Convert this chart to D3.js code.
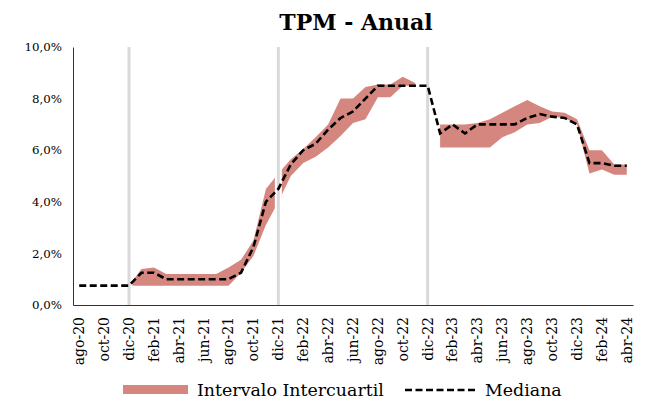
<!DOCTYPE html>
<html><head><meta charset="utf-8">
<script src="https://cdn.jsdelivr.net/npm/d3@7"></script>
<style>body{margin:0;background:#fff}svg{display:block}</style>
</head><body><svg id="c" width="648" height="403"></svg>
<script>
const categories = ["ago-20","sep-20","oct-20","nov-20","dic-20",
  "ene-21","feb-21","mar-21","abr-21","may-21","jun-21","jul-21","ago-21","sep-21","oct-21","nov-21","dic-21",
  "ene-22","feb-22","mar-22","abr-22","may-22","jun-22","jul-22","ago-22","sep-22","oct-22","nov-22","dic-22",
  "ene-23","feb-23","mar-23","abr-23","may-23","jun-23","jul-23","ago-23","sep-23","oct-23","nov-23","dic-23",
  "ene-24","feb-24","mar-24","abr-24"];
const median = [0.75,0.75,0.75,0.75,0.75,
  1.25,1.25,1.0,1.0,1.0,1.0,1.0,1.0,1.25,2.25,4.0,4.5,
  5.45,6.0,6.25,6.8,7.25,7.5,8.0,8.5,8.5,8.5,8.5,8.5,
  6.65,7.0,6.65,7.0,7.0,7.0,7.0,7.25,7.4,7.3,7.25,7.0,
  5.5,5.5,5.4,5.4];
const upper = [null,null,null,null,0.75,
  1.4,1.45,1.2,1.2,1.2,1.2,1.2,1.45,1.75,2.5,4.5,5.1,
  5.65,6.05,6.5,7.0,8.0,8.0,8.45,8.55,8.55,8.85,8.6,null,
  7.0,7.0,7.0,7.05,7.2,7.45,7.7,7.95,7.7,7.5,7.45,7.2,
  6.0,6.0,5.45,5.45];
const lower = [null,null,null,null,0.75,
  0.75,0.75,0.75,0.75,0.75,0.75,0.75,0.75,1.25,1.9,3.1,4.0,
  5.0,5.5,5.75,6.1,6.55,7.05,7.2,8.05,8.05,8.5,8.5,null,
  6.1,6.1,6.1,6.1,6.1,6.5,6.7,7.0,7.05,7.3,7.25,7.0,
  5.1,5.25,5.05,5.05];
const xTickLabels = categories.filter((d,i) => i % 2 === 0);
const yTicks = [0,2,4,6,8,10];
const yearLines = ["dic-20","dic-21","dic-22"];
const titleText = "TPM - Anual";
const legendLabels = ["Intervalo Intercuartil","Mediana"];

const bandColor = "#d5867f";
const font = "'DejaVu Serif', serif";
const svg = d3.select("#c");

const x = d3.scaleBand().domain(categories).range([73,633]).padding(0);
const y = d3.scaleLinear().domain([0,10]).range([305,47]);
const cx = d => x(d) + x.bandwidth()/2;

const rows = categories.map((c,i) => ({c, m: median[i], u: upper[i], l: lower[i]}));

// band
svg.append("path")
  .datum(rows)
  .attr("fill", bandColor)
  .attr("d", d3.area()
    .defined(d => d.u !== null && d.l !== null)
    .x(d => cx(d.c)).y0(d => y(d.l)).y1(d => y(d.u)));

// year separators
const sep = svg.append("g");
sep.selectAll("line.w").data(yearLines.slice(0,2)).join("line")
  .attr("x1", d => cx(d)).attr("x2", d => cx(d))
  .attr("y1", y(10)).attr("y2", y(0))
  .attr("stroke", "#fff").attr("stroke-width", 7);
sep.selectAll("line.g").data(yearLines).join("line")
  .attr("x1", d => cx(d)).attr("x2", d => cx(d))
  .attr("y1", y(10)).attr("y2", y(0))
  .attr("stroke", "#d9d9d9").attr("stroke-width", 3);

// axes
const yAxis = svg.append("g").attr("transform", `translate(73,0)`)
  .call(d3.axisLeft(y).tickValues(yTicks).tickSize(0).tickSizeOuter(0).tickPadding(11)
    .tickFormat(d => d.toFixed(1).replace(".", ",") + "%"));
yAxis.select(".domain").attr("stroke", "#333");
yAxis.selectAll("text").attr("font-family", font).attr("font-size", 11.8).attr("fill", "#000");

const xAxis = svg.append("g").attr("transform", `translate(0,305)`)
  .call(d3.axisBottom(x).tickValues(xTickLabels).tickSize(0).tickSizeOuter(0));
xAxis.select(".domain").attr("stroke", "#333");
xAxis.selectAll("text")
  .attr("font-family", font).attr("font-size", 14).attr("fill", "#000")
  .attr("transform", "rotate(-90)")
  .attr("x", -12).attr("y", 0).attr("dy", "0.35em")
  .style("text-anchor", "end");

// median
svg.append("path")
  .datum(rows)
  .attr("fill", "none").attr("stroke", "#000").attr("stroke-width", 2.6)
  .attr("stroke-dasharray", "7,3.5")
  .attr("d", d3.line().x(d => cx(d.c)).y(d => y(d.m)));

// title
svg.append("text").attr("x", 356).attr("y", 30).attr("text-anchor", "middle")
  .attr("font-family", font).attr("font-weight", "bold").attr("font-size", 22)
  .text(titleText);

// legend
const lg = svg.append("g");
lg.append("rect").attr("x", 123).attr("y", 385).attr("width", 65).attr("height", 9).attr("fill", bandColor);
lg.append("text").attr("x", 197).attr("y", 396).attr("font-family", font).attr("font-size", 17.4).text(legendLabels[0]);
lg.append("line").attr("x1", 405).attr("x2", 476).attr("y1", 390).attr("y2", 390)
  .attr("stroke", "#000").attr("stroke-width", 2.6).attr("stroke-dasharray", "7,3.5");
lg.append("text").attr("x", 485).attr("y", 396).attr("font-family", font).attr("font-size", 17.4).text(legendLabels[1]);
</script></body></html>
